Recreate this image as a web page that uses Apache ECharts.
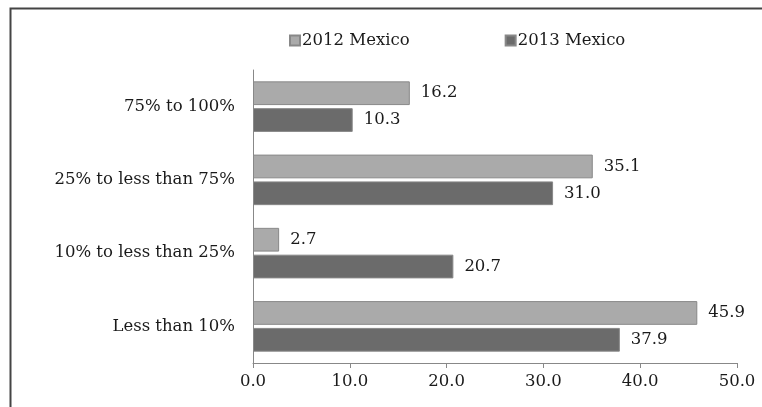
<!DOCTYPE html>
<html><head><meta charset="utf-8">
<script src="https://cdn.jsdelivr.net/npm/echarts@6/dist/echarts.min.js"></script>
<style>html,body{margin:0;padding:0;background:#fff}#c{width:762px;height:407px}</style>
</head><body><div id="c"></div>
<script>
const categories = ["75% to 100%", "25% to less than 75%", "10% to less than 25%", "Less than 10%"];
const series2012 = [16.2, 35.1, 2.7, 45.9];
const series2013 = [10.3, 31.0, 20.7, 37.9];
const seriesNames = ["2012 Mexico", "2013 Mexico"];
const xTicks = [0, 10, 20, 30, 40, 50];

const FONT = "DejaVu Serif";
const FS = 16.5;
const chart = echarts.init(document.getElementById('c'));
chart.setOption({
  animation: false,
  backgroundColor: '#fff',
  textStyle: {fontFamily: FONT},
  graphic: [{type: 'rect', left: 8, top: 6, shape: {width: 800, height: 500}, style: {fill: 'none', stroke: '#444', lineWidth: 2}, z: 100}],
  legend: {
    left: 284, top: 27, itemWidth: 10, itemHeight: 10, itemGap: 95,
    icon: 'rect',
    textStyle: {fontFamily: FONT, fontSize: FS, color: '#1a1a1a', padding: [0,0,0,-3]},
    data: seriesNames
  },
  grid: {left: 253, right: 25, top: 70, bottom: 44},
  xAxis: {
    type: 'value', min: xTicks[0], max: xTicks[xTicks.length-1], interval: 10,
    axisLine: {show: true, lineStyle: {color: '#888'}},
    axisTick: {show: true, length: 5, lineStyle: {color: '#888'}},
    splitLine: {show: false},
    axisLabel: {fontFamily: FONT, fontSize: FS, color: '#1a1a1a', margin: 10, formatter: v => v.toFixed(1)}
  },
  yAxis: {
    type: 'category', data: categories, inverse: true,
    axisLine: {show: true, lineStyle: {color: '#888'}},
    axisTick: {show: false},
    axisLabel: {fontFamily: FONT, fontSize: FS, color: '#1a1a1a', margin: 18}
  },
  series: [
    {name: seriesNames[0], type: 'bar', data: series2012, barGap: '13%', barCategoryGap: '31%',
     itemStyle: {color: '#aaaaaa', borderColor: '#888', borderWidth: 1},
     label: {show: true, position: 'right', distance: 11, fontFamily: FONT, fontSize: FS, color: '#1a1a1a', formatter: p => p.value.toFixed(1)}},
    {name: seriesNames[1], type: 'bar', data: series2013,
     itemStyle: {color: '#6b6b6b', borderColor: '#888', borderWidth: 1},
     label: {show: true, position: 'right', distance: 11, fontFamily: FONT, fontSize: FS, color: '#1a1a1a', formatter: p => p.value.toFixed(1)}}
  ]
});
</script></body></html>
